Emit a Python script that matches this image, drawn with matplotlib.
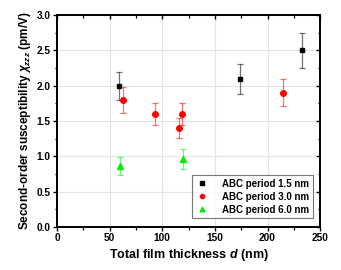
import matplotlib
matplotlib.use("Agg")
import matplotlib.pyplot as plt
from matplotlib.ticker import MultipleLocator

plt.rcParams['font.family'] = ['Liberation Sans', 'DejaVu Sans']
plt.rcParams['mathtext.fontset'] = 'custom'
plt.rcParams['mathtext.it'] = 'Liberation Sans:italic:bold'
plt.rcParams['mathtext.rm'] = 'Liberation Sans:bold'

d_15 = [59, 174, 233]
chi_15 = [2.0, 2.1, 2.5]
err_15 = [0.20, 0.21, 0.25]

d_30 = [63, 93, 116, 119, 215]
chi_30 = [1.8, 1.6, 1.4, 1.6, 1.9]
err_30 = [0.18, 0.16, 0.14, 0.16, 0.19]

d_60 = [60, 120]
chi_60 = [0.86, 0.96]
err_60 = [0.13, 0.14]

labels = ["ABC period 1.5 nm", "ABC period 3.0 nm", "ABC period 6.0 nm"]

fig = plt.figure(figsize=(3.41, 2.70), dpi=100)
ax = fig.add_axes([0.167, 0.159, 0.772, 0.785])

series = [(d_15, chi_15, err_15, 'black', 's', 3.5),
          (d_30, chi_30, err_30, 'red', 'o', 4),
          (d_60, chi_60, err_60, '#00ee00', '^', 4.5)]
handles = []
for (x, y, e, c, m, ms), lab in zip(series, labels):
    ax.errorbar(x, y, yerr=e, fmt='none', ecolor=c, alpha=0.55, elinewidth=0.9,
                capsize=2.2, capthick=0.9, zorder=3)
    h, = ax.plot(x, y, linestyle='none', marker=m, color=c, markersize=ms,
                 label=lab, zorder=4)
    handles.append(h)

ax.set_xlim(0, 250)
ax.set_ylim(0, 3.0)
ax.xaxis.set_major_locator(MultipleLocator(50))
ax.xaxis.set_minor_locator(MultipleLocator(25))
ax.yaxis.set_major_locator(MultipleLocator(0.5))
ax.yaxis.set_minor_locator(MultipleLocator(0.25))
ax.set_xticklabels([f"{int(v)}" for v in ax.get_xticks()])
ax.set_yticklabels([f"{v:.1f}" for v in ax.get_yticks()])
ax.grid(True, which='major', color='#e3e3e3', linewidth=0.8, zorder=0)
ax.set_axisbelow(True)

for s in ax.spines.values():
    s.set_linewidth(1.4)
ax.tick_params(which='major', direction='out', length=3, width=1,
               labelsize=7.3, pad=1.5, top=True, right=True)
ax.tick_params(which='minor', direction='out', length=1.8, width=0.9,
               top=True, right=True)
for lab in ax.get_xticklabels() + ax.get_yticklabels():
    lab.set_fontweight('bold')
ax.tick_params(axis='both', which='both', labeltop=False, labelright=False)
for t in ax.xaxis.get_major_ticks() + ax.xaxis.get_minor_ticks():
    t.tick2line.set_marker(3)
for t in ax.yaxis.get_major_ticks() + ax.yaxis.get_minor_ticks():
    t.tick2line.set_marker(0)

ax.set_xlabel(r"Total film thickness $d$ (nm)", fontsize=9, fontweight='bold', labelpad=3)
ax.set_ylabel(r"Second-order susceptibility $\chi_{zzz}$ (pm/V)", fontsize=8.5,
              fontweight='bold', labelpad=3)

leg = ax.legend(handles=handles, loc='lower right', fontsize=7, frameon=True,
                fancybox=False, edgecolor='#555555', handlelength=1.5,
                borderpad=0.35, labelspacing=0.3, handletextpad=1.3,
                markerscale=0.75, bbox_to_anchor=(0.99, 0.02))
leg.get_frame().set_linewidth(0.8)
for t in leg.get_texts():
    t.set_fontweight('bold')

fig.savefig("out.png", dpi=100)
